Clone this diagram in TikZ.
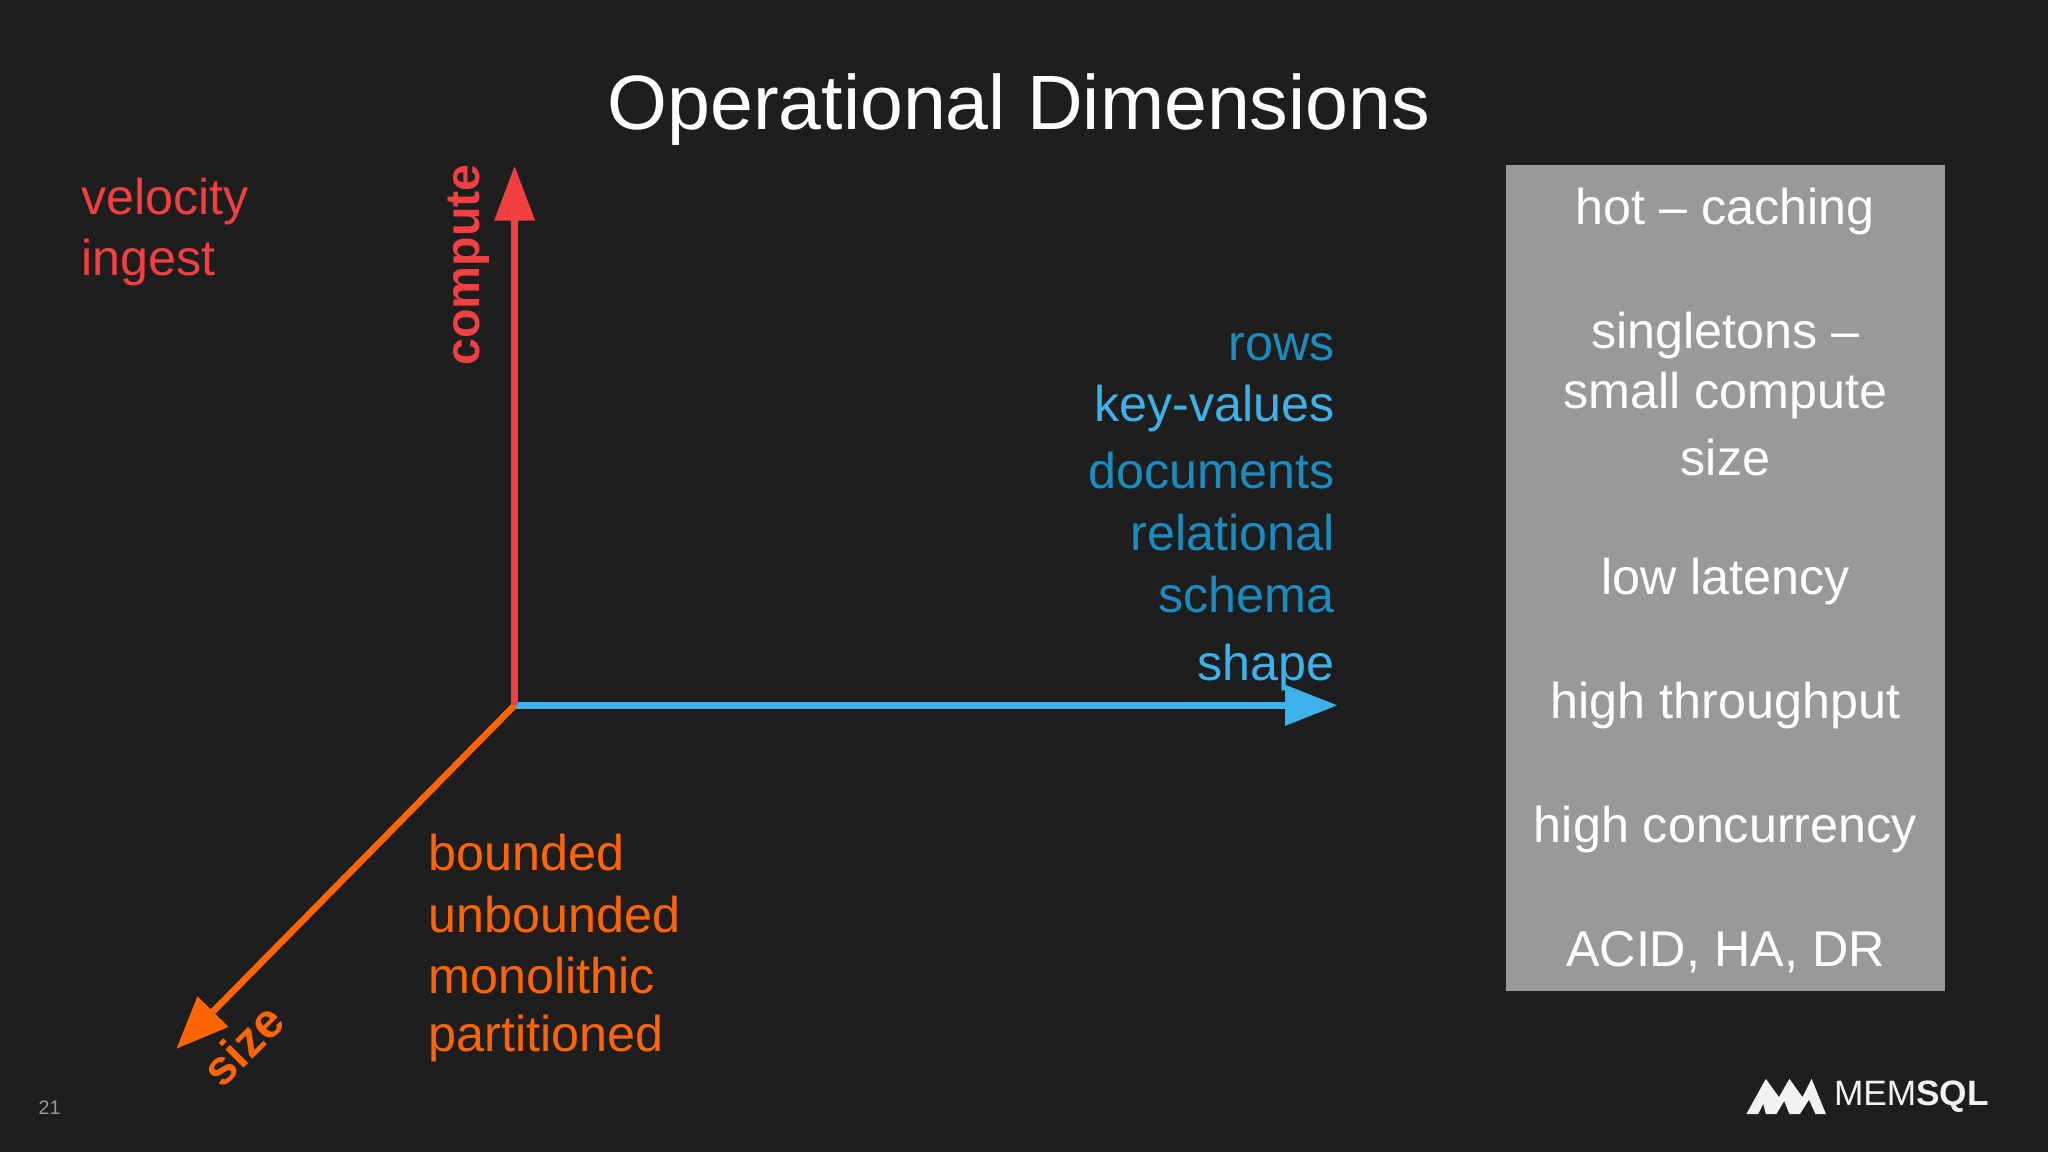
\documentclass[tikz,border=0pt]{standalone}
\usepackage{fontspec}
\setmainfont{Liberation Sans}
\usetikzlibrary{arrows.meta}
\definecolor{bg}{HTML}{1E1E1E}
\definecolor{cred}{HTML}{F23F41}
\definecolor{cblue}{HTML}{3DB1EA}
\definecolor{dblue}{HTML}{1A8CC2}
\definecolor{corange}{HTML}{FF6405}
\definecolor{cgray}{HTML}{999999}
\begin{document}
\begin{tikzpicture}[x=1pt,y=-1pt,
  lbl/.style={font=\fontsize{38.5}{44}\selectfont, inner sep=0pt},
  ax/.style={line width=5pt},
  boxt/.style={lbl, text=white, anchor=center}]
\fill[bg] (0,0) rectangle (1568,882);
\useasboundingbox (0,0) rectangle (1568,882);
\node[font=\fontsize{59}{66}\selectfont, text=white, inner sep=0pt] (title) at (780,84) {Operational Dimensions};
\coordinate (o) at (394,540);
\coordinate (up) at (394,127);
\coordinate (rt) at (1024,540);
\coordinate (dl) at (135,803);
\draw[ax, cblue, -{Triangle[length=40pt,width=30pt]}] (o) -- (rt);
\draw[ax, corange, -{Triangle[length=40pt,width=32pt]}] (o) -- (dl);
\draw[ax, cred, -{Triangle[length=42pt,width=30pt]}] (o) -- (up);
\node[lbl, text=cred, font=\bfseries\fontsize{37}{44}\selectfont, rotate=90] (compute) at (359,203) {compute};
\node[lbl, text=corange, font=\bfseries\fontsize{37}{44}\selectfont, rotate=45] (size) at (186,800) {size};
\node[lbl, text=cred, anchor=west] (vel) at (62,154) {velocity};
\node[lbl, text=cred, anchor=west] (ing) at (62,201) {ingest};
\node[lbl, text=dblue, anchor=east] (r1) at (1022,266) {rows};
\node[lbl, text=cblue, anchor=east] (r2) at (1022,313) {key-values};
\node[lbl, text=dblue, anchor=east] (r3) at (1022,360) {documents};
\node[lbl, text=dblue, anchor=east] (r4) at (1022,408) {relational};
\node[lbl, text=dblue, anchor=east] (r5) at (1022,455) {schema};
\node[lbl, text=cblue, anchor=east] (r6) at (1022,511) {shape};
\node[lbl, text=corange, anchor=west] (b1) at (328,653) {bounded};
\node[lbl, text=corange, anchor=west] (b2) at (328,700) {unbounded};
\node[lbl, text=corange, anchor=west] (b3) at (328,747) {monolithic};
\node[lbl, text=corange, anchor=west] (b4) at (328,795) {partitioned};
\fill[cgray] (1153,126) rectangle (1489,759);
\node[boxt] (t1) at (1321,162) {hot -- caching};
\node[boxt] (t2) at (1321,257) {singletons --};
\node[boxt] (t3) at (1321,303) {small compute};
\node[boxt] (t4) at (1321,350) {size};
\node[boxt] (t5) at (1321,445) {low latency};
\node[boxt] (t6) at (1321,540) {high throughput};
\node[boxt] (t7) at (1321,635) {high concurrency};
\node[boxt] (t8) at (1321,729) {ACID, HA, DR};
\node[text=gray!80, font=\fontsize{15}{18}\selectfont, inner sep=0pt] (pg) at (38,848) {21};
\fill[white!90!gray] (1337,853) -- (1352,826) -- (1362,840) -- (1370,826) -- (1380,840) -- (1387,826) -- (1398,853) -- (1390,853) -- (1385,842) -- (1378,853) -- (1370,853) -- (1366,843) -- (1360,853) -- (1352,853) -- (1350,845) -- (1346,853) -- cycle;
\node[text=white!90!gray, anchor=west, inner sep=0pt, font=\fontsize{27}{30}\selectfont] (logo) at (1404,840) {MEM\textbf{SQL}};
\end{tikzpicture}
\end{document}
